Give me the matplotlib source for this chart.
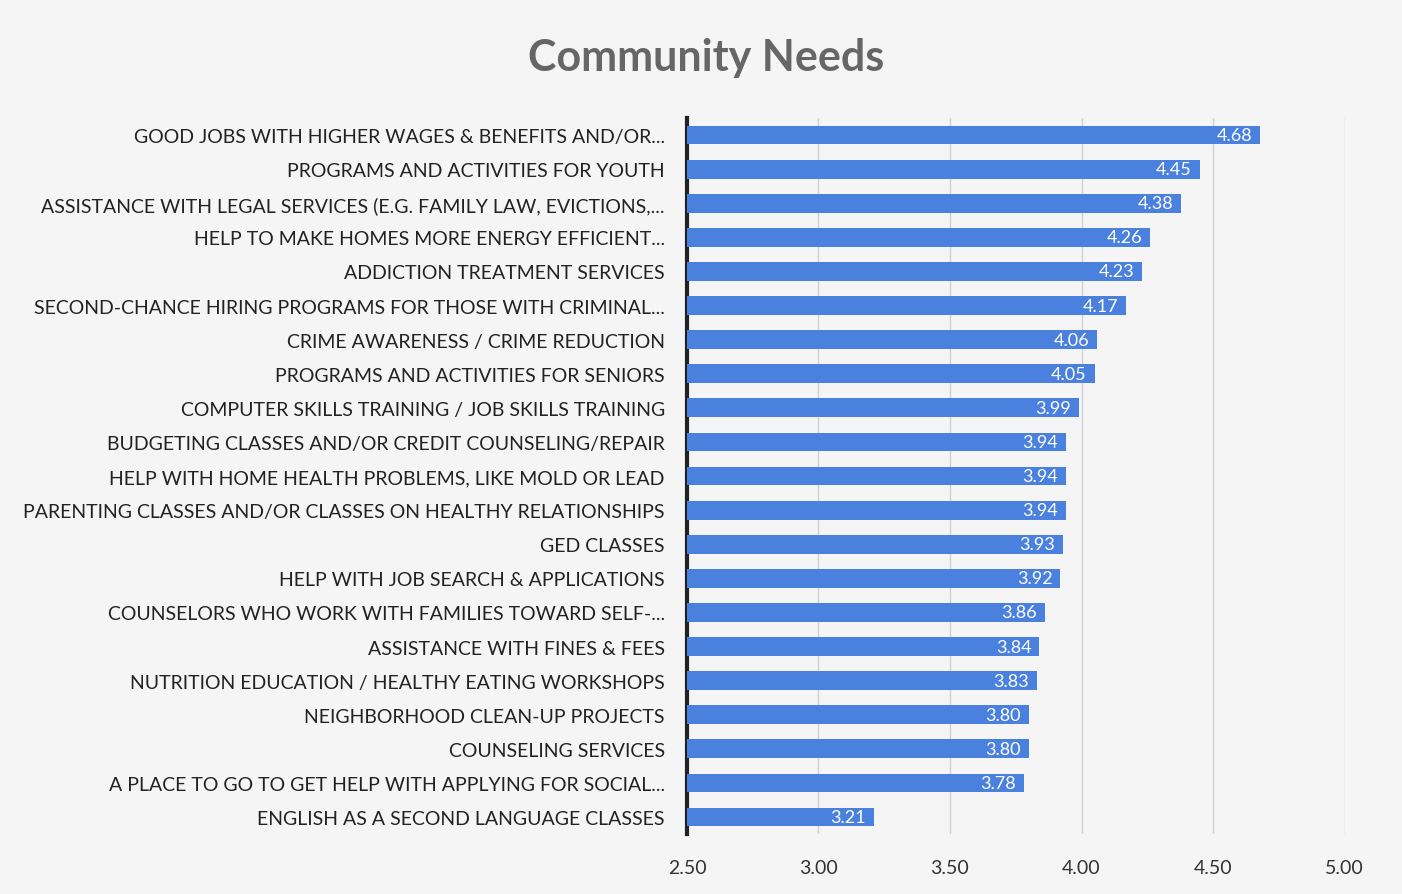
import matplotlib.pyplot as plt

categories = [
    "GOOD JOBS WITH HIGHER WAGES & BENEFITS AND/OR...",
    "PROGRAMS AND ACTIVITIES FOR YOUTH",
    "ASSISTANCE WITH LEGAL SERVICES (E.G. FAMILY LAW, EVICTIONS,...",
    "HELP TO MAKE HOMES MORE ENERGY EFFICIENT...",
    "ADDICTION TREATMENT SERVICES",
    "SECOND-CHANCE HIRING PROGRAMS FOR THOSE WITH CRIMINAL...",
    "CRIME AWARENESS / CRIME REDUCTION",
    "PROGRAMS AND ACTIVITIES FOR SENIORS",
    "COMPUTER SKILLS TRAINING / JOB SKILLS TRAINING",
    "BUDGETING CLASSES AND/OR CREDIT COUNSELING/REPAIR",
    "HELP WITH HOME HEALTH PROBLEMS, LIKE MOLD OR LEAD",
    "PARENTING CLASSES AND/OR CLASSES ON HEALTHY RELATIONSHIPS",
    "GED CLASSES",
    "HELP WITH JOB SEARCH & APPLICATIONS",
    "COUNSELORS WHO WORK WITH FAMILIES TOWARD SELF-...",
    "ASSISTANCE WITH FINES & FEES",
    "NUTRITION EDUCATION / HEALTHY EATING WORKSHOPS",
    "NEIGHBORHOOD CLEAN-UP PROJECTS",
    "COUNSELING SERVICES",
    "A PLACE TO GO TO GET HELP WITH APPLYING FOR SOCIAL...",
    "ENGLISH AS A SECOND LANGUAGE CLASSES",
]
scores = [4.68, 4.45, 4.38, 4.26, 4.23, 4.17, 4.06, 4.05, 3.99, 3.94, 3.94,
          3.94, 3.93, 3.92, 3.86, 3.84, 3.83, 3.80, 3.80, 3.78, 3.21]
x_ticks = [2.50, 3.00, 3.50, 4.00, 4.50, 5.00]

plt.rcParams['font.family'] = ['Lato', 'DejaVu Sans']

fig = plt.figure(figsize=(14.02, 8.95), dpi=100, facecolor='#f5f5f5')
ax = fig.add_axes([0.49, 0.067, 0.469, 0.80])
ax.set_facecolor('#f5f5f5')

ypos = list(range(len(categories)))
ax.barh(ypos, [s - 2.5 for s in scores], left=2.5, height=0.55,
        color='#4a80de', zorder=3)
for y, s in zip(ypos, scores):
    ax.text(s - 0.03, y, f"{s:.2f}", ha='right', va='center',
            color='white', fontsize=13, zorder=4)

ax.set_xlim(2.5, 5.0)
ax.set_ylim(len(categories) - 0.5, -0.5)
ax.set_yticks(ypos)
ax.set_yticklabels(categories, fontsize=14, color='#222222')
ax.set_xticks(x_ticks)
ax.set_xticklabels([f"{t:.2f}" for t in x_ticks], fontsize=14, color='#333333')
ax.tick_params(axis='y', length=0, pad=16)
ax.tick_params(axis='x', length=0, pad=18)
ax.grid(axis='x', color='#d0d0d0', linewidth=1, zorder=0)
for side in ['top', 'right', 'bottom']:
    ax.spines[side].set_visible(False)
ax.spines['left'].set_linewidth(3)
ax.spines['left'].set_color('#222222')

fig.text(0.504, 0.935, "Community Needs", ha='center', va='center',
         fontsize=31, fontweight='bold', color='#666666')

fig.savefig('out.png', dpi=100, facecolor=fig.get_facecolor())
plt.close(fig)
